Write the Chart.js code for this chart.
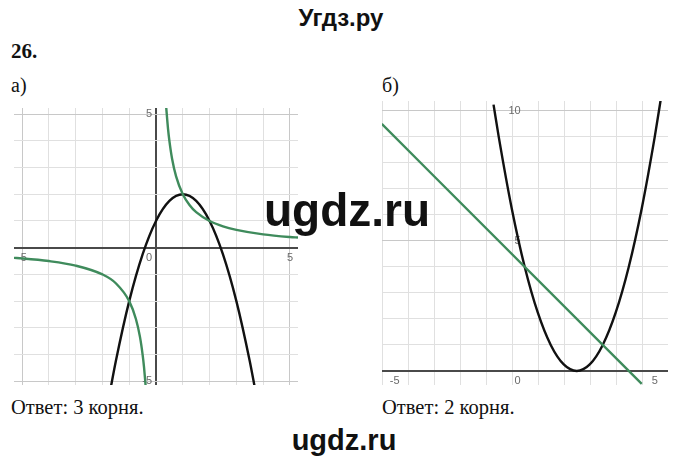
<!DOCTYPE html>
<html>
<head>
<meta charset="utf-8">
<script src="https://cdn.jsdelivr.net/npm/chart.js@4"></script>
<style>
  body { margin: 0; background: #fff; }
  #page { position: relative; width: 680px; height: 462px; overflow: hidden; }
  .t { position: absolute; white-space: nowrap; color: #111; }
  .serif { font-family: "Liberation Serif", "DejaVu Serif", serif; }
  .sans { font-family: "Liberation Sans", Arial, sans-serif; font-weight: bold; }
  canvas { position: absolute; }
</style>
</head>
<body>
<div id="page">
  <div class="t sans" style="left:0;width:682px;text-align:center;top:4px;font-size:24px;">Угдз.ру</div>
  <div class="t serif" style="left:11px;top:39px;font-size:21px;font-weight:bold;">26.</div>
  <div class="t serif" style="left:11px;top:74px;font-size:20px;">а)</div>
  <div class="t serif" style="left:382px;top:74px;font-size:20px;">б)</div>

  <canvas id="chartA" width="284" height="277" style="left:14px;top:108px;"></canvas>
  <canvas id="chartB" width="286" height="284" style="left:382px;top:101px;"></canvas>

  <div class="t sans" style="left:264px;top:183px;font-size:46px;z-index:5;">ugdz.ru</div>

  <div class="t serif" style="left:11px;top:396px;font-size:20.5px;">Ответ: 3 корня.</div>
  <div class="t serif" style="left:382px;top:396px;font-size:20.5px;">Ответ: 2 корня.</div>
  <div class="t sans" style="left:0;width:688px;text-align:center;top:424px;font-size:29px;">ugdz.ru</div>
</div>

<script>
// ---- а) парабола и гипербола ----
const parabolaAx = [-1.7, -1.5, -1, -0.5, 0, 0.5, 1, 1.5, 2, 2.5, 3, 3.5, 3.7];
const parabolaAy = [-5.3, -4.25, -2, -0.25, 1, 1.75, 2, 1.75, 1, -0.25, -2, -4.25, -5.3];

const hyperRightX = [0.38, 0.45, 0.5, 0.6, 0.75, 1, 1.25, 1.5, 2, 2.5, 3, 4, 5, 5.3];
const hyperRightY = [5.26, 4.44, 4, 3.33, 2.67, 2, 1.6, 1.33, 1, 0.8, 0.67, 0.5, 0.4, 0.38];
const hyperLeftX  = [-5.3, -5, -4, -3, -2, -1.5, -1, -0.75, -0.6, -0.5, -0.45, -0.38];
const hyperLeftY  = [-0.38, -0.4, -0.5, -0.67, -1, -1.33, -2, -2.67, -3.33, -4, -4.44, -5.26];

const xTicksA = [-5, 0, 5];
const yTicksA = [5, -5];

// ---- б) парабола и прямая ----
const parabolaBx = [-1.2, -1, -0.5, 0, 0.5, 1, 1.5, 2, 2.5, 3, 3.5, 4, 4.5, 5, 5.25];
const parabolaBy = [10.24, 9, 6.25, 4, 2.25, 1, 0.25, 0, 0.25, 1, 2.25, 4, 6.25, 9, 10.56];
const lineBx = [-5.5, 4.5];
const lineBy = [9.5, -0.5];

const xTicksB = [-5, 0, 5];
const yTicksB = [10, 5];

const GREEN = '#3f8b5c';
const BLACK = '#111';

function pts(xs, ys) {
  return xs.map((x, i) => ({ x, y: ys[i] }));
}

function curve(xs, ys, color) {
  return {
    data: pts(xs, ys),
    showLine: true,
    borderColor: color,
    borderWidth: 2.4,
    pointRadius: 0,
    cubicInterpolationMode: 'monotone'
  };
}

// подписи у осей, а не по краям
const axisLabels = {
  id: 'axisLabels',
  beforeDatasetsDraw(chart, args, opts) {
    const { ctx, scales } = chart;
    const x0 = scales.x.getPixelForValue(0);
    const y0 = scales.y.getPixelForValue(0);
    ctx.save();
    ctx.font = '11px "Liberation Sans", Arial, sans-serif';
    ctx.fillStyle = '#6a6a6a';
    opts.x.forEach(v => {
      const px = scales.x.getPixelForValue(v);
      if (v === 0) {
        ctx.textAlign = 'right';
        ctx.textBaseline = 'top';
        ctx.fillText('0', x0 - 4, y0 + 5);
      } else {
        ctx.textAlign = 'center';
        ctx.textBaseline = 'top';
        ctx.fillText(String(v), px, y0 + 5);
      }
    });
    opts.y.forEach(v => {
      const py = scales.y.getPixelForValue(v);
      ctx.textAlign = 'right';
      ctx.textBaseline = 'middle';
      ctx.fillText(String(v), x0 - 4, py);
    });
    ctx.restore();
  }
};

function gridOpts() {
  return {
    drawTicks: false,
    color: c => {
      const v = c.tick ? c.tick.value : 1;
      if (v === 0) return '#4a4a4a';
      if (v % 5 === 0) return '#c8c8c8';
      return '#e0e0e0';
    },
    lineWidth: c => (c.tick && c.tick.value === 0 ? 2 : 1)
  };
}

function makeChart(id, datasets, xr, yr, xt, yt) {
  return new Chart(document.getElementById(id), {
    type: 'scatter',
    data: { datasets },
    options: {
      responsive: false,
      animation: false,
      devicePixelRatio: 1,
      layout: { padding: 0 },
      plugins: {
        legend: { display: false },
        tooltip: { enabled: false },
        axisLabels: { x: xt, y: yt }
      },
      scales: {
        x: {
          type: 'linear', min: xr[0], max: xr[1],
          ticks: { display: false, stepSize: 1, includeBounds: false },
          grid: gridOpts(),
          border: { display: false }
        },
        y: {
          type: 'linear', min: yr[0], max: yr[1],
          ticks: { display: false, stepSize: 1, includeBounds: false },
          grid: gridOpts(),
          border: { display: false }
        }
      }
    },
    plugins: [axisLabels]
  });
}

makeChart('chartA', [
  curve(hyperLeftX, hyperLeftY, GREEN),
  curve(hyperRightX, hyperRightY, GREEN),
  curve(parabolaAx, parabolaAy, BLACK)
], [-5.3, 5.3], [-5.14, 5.23], xTicksA, yTicksA);

makeChart('chartB', [
  curve(lineBx, lineBy, GREEN),
  curve(parabolaBx, parabolaBy, BLACK)
], [-5.49, 5.51], [-0.54, 10.38], xTicksB, yTicksB);
</script>
</body>
</html>
